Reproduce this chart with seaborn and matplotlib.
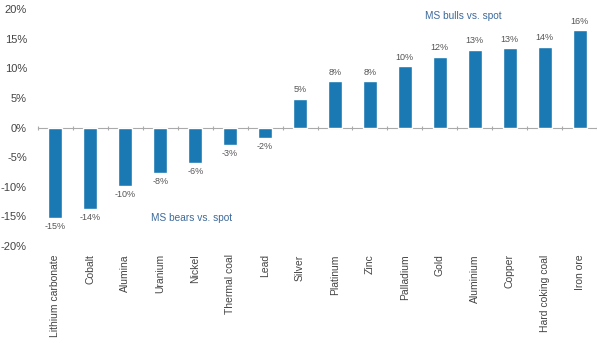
import matplotlib
matplotlib.use("Agg")
import matplotlib.pyplot as plt
import seaborn as sns
import pandas as pd

categories = ["Lithium carbonate", "Cobalt", "Alumina", "Uranium", "Nickel",
              "Thermal coal", "Lead", "Silver", "Platinum", "Zinc", "Palladium",
              "Gold", "Aluminium", "Copper", "Hard coking coal", "Iron ore"]
values = [-15.2, -13.8, -9.8, -7.6, -6.0, -2.9, -1.8, 4.9, 7.9, 7.9, 10.4,
          12.0, 13.2, 13.4, 13.7, 16.5]
labels = ["-15%", "-14%", "-10%", "-8%", "-6%", "-3%", "-2%", "5%", "8%", "8%",
          "10%", "12%", "13%", "13%", "14%", "16%"]
yticks = [-20, -15, -10, -5, 0, 5, 10, 15, 20]

sns.set_theme(style="white")
plt.rcParams["font.family"] = ["Liberation Sans", "DejaVu Sans"]

df = pd.DataFrame({"commodity": categories, "value": values})

fig = plt.figure(figsize=(5.97, 3.43), dpi=100)
ax = fig.add_axes([38 / 597, (343 - 246) / 343, 1 - 38 / 597, (246 - 9.3) / 343])

sns.barplot(data=df, x="commodity", y="value", color="#1a78b2", width=0.4,
            ax=ax, saturation=1, zorder=3)

for i, (v, lab) in enumerate(zip(values, labels)):
    off = 3 if v >= 0 else -3
    ax.annotate(lab, (i, v), xytext=(0, off), textcoords="offset points",
                ha="center", va="bottom" if v >= 0 else "top",
                fontsize=6.5, color="#555555")

ax.set_ylim(-20, 20)
ax.set_xlim(-0.5, len(categories) - 0.5)
ax.set_yticks(yticks)
ax.set_yticklabels([f"{t}%" for t in yticks], fontsize=8, color="#444444")
ax.set_xlabel("")
ax.set_ylabel("")
ax.tick_params(axis="x", length=0, pad=6, labelsize=7.5, labelcolor="#444444",
               rotation=90)
ax.tick_params(axis="y", length=0, pad=8)
for s in ax.spines.values():
    s.set_visible(False)

sec = ax.secondary_xaxis(0.5)
sec.set_zorder(1)
sec.set_xticks([i - 0.5 for i in range(len(categories) + 1)])
sec.set_xticklabels([])
sec.tick_params(axis="x", length=3, direction="inout", color="#aaaaaa", width=0.8)
for s in sec.spines.values():
    s.set_color("#aaaaaa")
    s.set_linewidth(0.8)

ax.text(11.67, 18.8, "MS bulls vs. spot", fontsize=7.3, color="#3d6a9a",
        ha="center", va="center")
ax.text(3.9, -15.2, "MS bears vs. spot", fontsize=7.3, color="#3d6a9a",
        ha="center", va="center")

fig.savefig("out.png", dpi=100)
